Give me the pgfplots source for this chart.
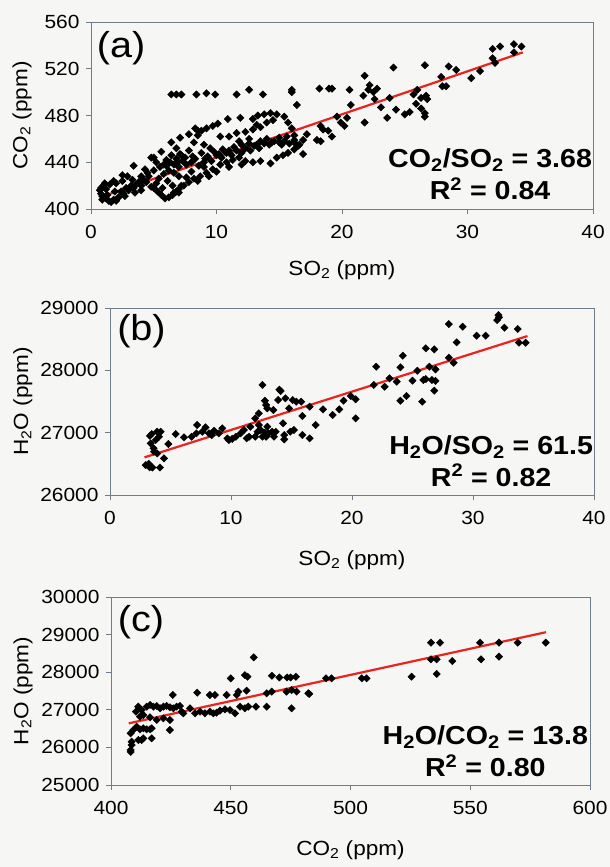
\documentclass[border=0pt]{standalone}
\usepackage{fontspec}
\setmainfont[FakeStretch=1.1]{Liberation Sans}
\usepackage{pgfplots}
\pgfplotsset{compat=1.18}
\definecolor{framec}{RGB}{110,125,140}
\definecolor{fitred}{RGB}{235,35,30}
\definecolor{bg}{RGB}{246,246,244}
\pgfplotsset{
 panel/.style={
  scale only axis,
  axis line style={framec, line width=0.8pt},
  tick style={framec, line width=0.8pt},
  tick align=outside,
  major tick length=5pt,
  xtick pos=bottom, ytick pos=left,
  tick label style={font=\fontsize{19}{22}\selectfont, /pgf/number format/assume math mode=true, /pgf/number format/set thousands separator={}},
  xticklabel style={yshift=-8pt},
  yticklabel style={xshift=-3pt},
  label style={font=\fontsize{20.5}{23}\selectfont},
  scaled ticks=false,
  clip=false,
  anchor=north west,
 },
 dots/.style={only marks, black, mark=square*, mark size=2.6pt, mark options={rotate=45, fill=black, draw=black}},
 fit/.style={fitred, line width=2.2pt, no marks},
}
\begin{document}
\begin{tikzpicture}
\fill[bg] (0,0) rectangle (610pt,-867pt);
\useasboundingbox (0,0) rectangle (610pt,-867pt);

% ---------------- (a) ----------------
\begin{axis}[panel, at={(91pt,-22pt)}, width=502pt, height=187pt,
  xmin=0, xmax=40, ymin=400, ymax=560, xtick={0,10,...,40}, ytick={400,440,...,560},
  xlabel={SO\textsubscript{2} (ppm)}, ylabel={CO\textsubscript{2} (ppm)},
  xlabel style={at={(axis description cs:0.5,-0.326)}, anchor=center},
  ylabel style={at={(axis description cs:-0.1375,0.5)}, anchor=center}]
\addplot[dots] coordinates {
(0.7,416)(0.8,413)(0.8,418)(0.9,411)(1.0,420)(1.2,409)(1.4,407)(1.6,406)(1.8,408)(1.5,421)(2.0,422)(2.2,410)(2.4,415)(2.6,413)(2.8,418)(3.0,416)(3.2,420)(3.4,418)(3.6,421)(3.8,423)(4.0,420)(4.2,425)(4.4,423)(4.6,428)(1.2,417)(1.9,415)(2.5,424)(2.9,428)(3.3,425)(1.1,422)(1.8,424)(2.5,429)(0.9,408)(1.3,412)(2.0,407)(2.7,411)(3.5,414)(4.0,416)(4.8,419)
(5.0,418)(5.3,415)(5.6,412)(5.9,409)(6.2,410)(6.5,412)(6.8,415)(5.4,426)(5.8,430)(6.2,433)(6.6,431)(7.0,428)(7.2,420)(7.0,414)(6.1,424)(6.5,420)(5.2,422)(5.7,418)
(3.4,437)(4.8,444)(5.0,444)(5.6,449)(6.0,442)(6.4,446)(6.8,452)(7.1,447)(7.5,444)(7.8,450)(8.2,457)(8.5,463)(8.8,467)(9.2,469)(9.7,471)(10.1,473)(10.9,477)(11.9,478)(12.9,477)(13.3,480)(13.8,481)(14.3,482)(14.8,481)(15.4,479)(15.7,474)(16.0,469)(16.2,463)(16.2,459)(16.9,459)(16.5,454)(6.4,457)(7.1,461)(7.8,464)(8.5,467)(8.3,469)
(9.0,455)(9.5,452)(10.3,462)(11.0,462)(11.6,465)(12.3,466)(12.9,468)(13.5,470)(13.2,472)(12.6,460)(11.8,458)(14.0,474)(14.5,476)
(4.0,428)(4.5,431)(5.0,433)(5.5,436)(6.0,437)(6.3,440)(6.6,438)(7.0,436)(7.3,441)(7.6,438)(8.0,440)(8.3,443)(8.6,437)(9.0,440)(9.3,445)(9.6,441)(10.0,446)(10.4,444)(10.8,448)(11.2,446)(11.6,450)(12.0,448)(12.3,452)(12.7,450)(13.0,454)(13.4,452)(13.8,456)(14.2,455)(14.6,458)(15.0,457)(15.4,458)(15.8,456)(16.2,457)(16.6,455)(7.2,446)(8.8,448)(10.5,451)(12.0,455)(13.5,458)(15.0,461)(5.2,440)(6.8,443)(9.8,449)(11.4,453)(12.6,456)(14.0,460)(15.6,462)
(4.3,434)(5.8,438)(6.9,440)(8.1,445)(9.1,443)(10.2,447)(11.0,450)(12.2,451)(13.2,455)(14.4,457)(15.2,455)
(6.6,414)(7.0,417)(7.4,420)(7.8,423)(8.2,426)(8.7,428)(9.2,431)(9.7,434)(10.3,438)(10.8,440)(11.3,442)(11.8,444)(12.3,441)(12.9,440)(13.5,441)(14.3,439)(14.8,444)(15.3,446)(15.7,448)(16.2,451)(16.9,447)(8.0,432)(9.0,436)(10.0,432)(7.6,427)(8.5,424)(9.4,428)(11.0,436)(12.0,438)
(6.4,498)(6.8,498)(7.2,498)(8.4,498)(9.2,499)(9.9,498)(11.6,498)(12.6,502)(13.7,498)(16.0,502)(16.0,500)(16.4,489)
(18.2,503)(18.96,503)(19.2,503)(18.3,471)(18.5,468)(18.9,467)(19.2,462)(18.0,459)(18.3,458)(19.6,479)(19.9,474)(20.2,471)(20.4,478)(20.6,502)(20.7,489)(17.2,464)
(21.8,514)(21.7,497)(22.1,502)(22.5,500)(22.6,494)(21.8,474)(24.1,521)(23.8,495)(24.3,485)(23.6,478)(23.1,487)(26.6,523)(25.7,498)(26.0,502)(26.3,495)(26.7,497)(26.8,494)(25.9,490)(26.3,486)(26.6,482)(26.6,479)(25.4,483)(25.0,481)(22.2,506)(22.8,503)
(27.9,513)(28.0,505)(28.3,505)(28.5,522)(29.1,519)(30.3,512)(31.0,518)(32.0,537)(32.0,529)(32.2,525)(32.6,539)(33.7,541)(34.3,539)(33.7,534)
};
\addplot[fit] coordinates {(0.7,410.0)(34.4,534.0)};
\node[font=\fontsize{36}{40}\selectfont] at (axis cs:2.4,538) {(a)};
\node[align=center, font=\bfseries\fontsize{26}{32}\selectfont] at (axis cs:31.8,430) {CO\textsubscript{2}/SO\textsubscript{2} = 3.68\\R\textsuperscript{2} = 0.84};
\end{axis}

% ---------------- (b) ----------------
\begin{axis}[panel, at={(110pt,-308pt)}, width=484pt, height=187pt,
  xmin=0, xmax=40, ymin=26000, ymax=29000, xtick={0,10,...,40}, ytick={26000,27000,28000,29000},
  xlabel={SO\textsubscript{2} (ppm)}, ylabel={H\textsubscript{2}O (ppm)},
  xlabel style={at={(axis description cs:0.5,-0.348)}, anchor=center},
  ylabel style={at={(axis description cs:-0.18,0.5)}, anchor=center}]
\addplot[dots] coordinates {
(2.95,26481)(3.28,26444)(3.5,26441)(4.13,26441)(3.45,26978)(3.9,27015)(4.19,27015)(3.36,26829)(3.78,26882)(4.05,26935)(3.64,26695)(3.9,26667)(4.46,26588)(4.82,26818)(5.43,26978)(6.12,26925)(3.2,26500)(3.6,26750)(3.3,26950)
(6.75,26935)(7.2,27123)(7.14,26989)(7.63,27015)(7.9,27086)(8.18,26989)(8.6,27031)(9.0,26989)(9.28,27070)(9.7,26909)(9.83,26882)(10.4,26935)(10.8,26989)(11.07,27043)(11.5,26935)(11.6,27096)(12.0,26935)(12.2,27015)(12.3,27123)(12.45,27043)(12.6,26935)(12.9,26935)(13.0,27096)(13.1,26989)(13.4,27015)(13.55,26935)(13.7,27015)(8.4,26960)(10.1,26900)(11.3,26910)(12.8,27000)
(12.0,27230)(12.3,27310)(12.8,27513)(12.9,27444)(13.0,27390)(13.5,27363)(13.9,27524)(14.1,27668)(14.5,27551)(14.8,27390)(15.1,27524)(15.4,27497)(15.8,27497)(14.3,27150)(15.2,27043)(15.9,26962)(14.4,26962)(14.4,26893)(14.9,27015)(12.6,27765)(14.0,27690)
(15.9,27267)(16.5,26909)(17.0,27123)(16.5,27417)(17.6,27374)(18.4,27283)(18.95,27374)(19.3,27513)(19.9,27588)(20.3,27535)(20.3,27230)
(21.8,27765)(22.0,28058)(22.7,27737)(23.1,27872)(23.7,27818)(24.0,28048)(24.2,28235)(24.0,27513)(24.5,27588)(25.0,27834)(25.4,27994)(25.8,27497)(25.9,27845)(26.1,27860)(26.1,28353)(26.4,28058)(26.6,27845)(26.8,28337)(26.8,27674)(26.9,28016)(26.9,27830)
(28.0,28743)(28.0,28203)(28.4,28122)(28.65,28449)(29.15,28700)(30.3,28556)(31.05,28556)(32.0,28807)(32.1,28887)(32.15,28850)(32.6,28684)(33.7,28663)(33.8,28443)(34.35,28443)
};
\addplot[fit] coordinates {(2.85,26604)(34.5,28550)};
\node[font=\fontsize{36}{40}\selectfont] at (axis cs:2.6,28625) {(b)};
\node[align=center, font=\bfseries\fontsize{26}{32}\selectfont] at (axis cs:31.5,26550) {H\textsubscript{2}O/SO\textsubscript{2} = 61.5\\R\textsuperscript{2} = 0.82};
\end{axis}

% ---------------- (c) ----------------
\begin{axis}[panel, at={(111pt,-597pt)}, width=479pt, height=188pt,
  xmin=400, xmax=600, ymin=25000, ymax=30000, xtick={400,450,...,600}, ytick={25000,26000,...,30000},
  xlabel={CO\textsubscript{2} (ppm)}, ylabel={H\textsubscript{2}O (ppm)},
  xlabel style={at={(axis description cs:0.5,-0.346)}, anchor=center},
  ylabel style={at={(axis description cs:-0.1837,0.5)}, anchor=center}]
\addplot[dots] coordinates {
(408.2,25931)(408.6,26064)(408.6,26153)(408.2,26375)(409.3,26463)(410.7,26553)(412.1,26481)(413.5,26508)(414.9,26481)(416.3,26481)(417.0,26508)(411.4,26197)(412.8,26197)(413.5,26242)(417.0,26242)(408.2,25880)
(410.4,26950)(411.4,27084)(412.8,26995)(414.9,27084)(416.3,27128)(417.7,27084)(419.1,27102)(420.5,27040)(421.9,27084)(423.2,27102)(424.6,27066)(426.0,27040)(427.4,27084)(428.8,27102)(429.5,26951)
(412.1,26818)(413.5,26863)(416.3,26801)(419.1,26730)(421.9,26774)(424.6,26730)(424.6,26463)(425.8,27394)
(430.2,26907)(433.0,27040)(435.1,26907)(437.2,26951)(439.2,26907)(441.3,26951)(442.7,26907)(444.1,26924)(445.5,26977)(436.0,27455)(441.3,27394)(443.4,27394)(448.3,27394)(452.5,27394)(453.2,27483)
(447.6,27013)(449.7,26995)(451.8,26907)(453.9,27084)(455.9,27040)(457.3,27084)(456.6,27508)(460.5,27083)(465.0,27084)(465.0,27439)(467.1,27483)(473.3,27483)(475.4,27527)(477.5,27483)(475.4,27040)(482.4,27439)
(450.0,27834)(455.9,27923)(457.0,27880)(459.6,28396)(467.2,27906)(470.3,27861)(473.5,27861)(475.0,27861)(477.2,27880)(482.8,27421)
(489.8,27838)(492.1,27838)(504.7,27838)(506.7,27838)(525.5,27881)(533.6,28786)(537.4,28786)(533.6,28343)(536.0,28343)(536.0,27953)(542.5,28298)(554.1,28786)(554.5,28343)(562.0,28786)(562.0,28413)(569.8,28786)(581.5,28786)
};
\addplot[fit] coordinates {(407.4,26640)(581.6,29064)};
\node[font=\fontsize{36}{40}\selectfont] at (axis cs:412.5,29330) {(c)};
\node[align=center, font=\bfseries\fontsize{26}{32}\selectfont] at (axis cs:556.3,25900) {H\textsubscript{2}O/CO\textsubscript{2} = 13.8\\R\textsuperscript{2} = 0.80};
\end{axis}
\end{tikzpicture}
\end{document}
